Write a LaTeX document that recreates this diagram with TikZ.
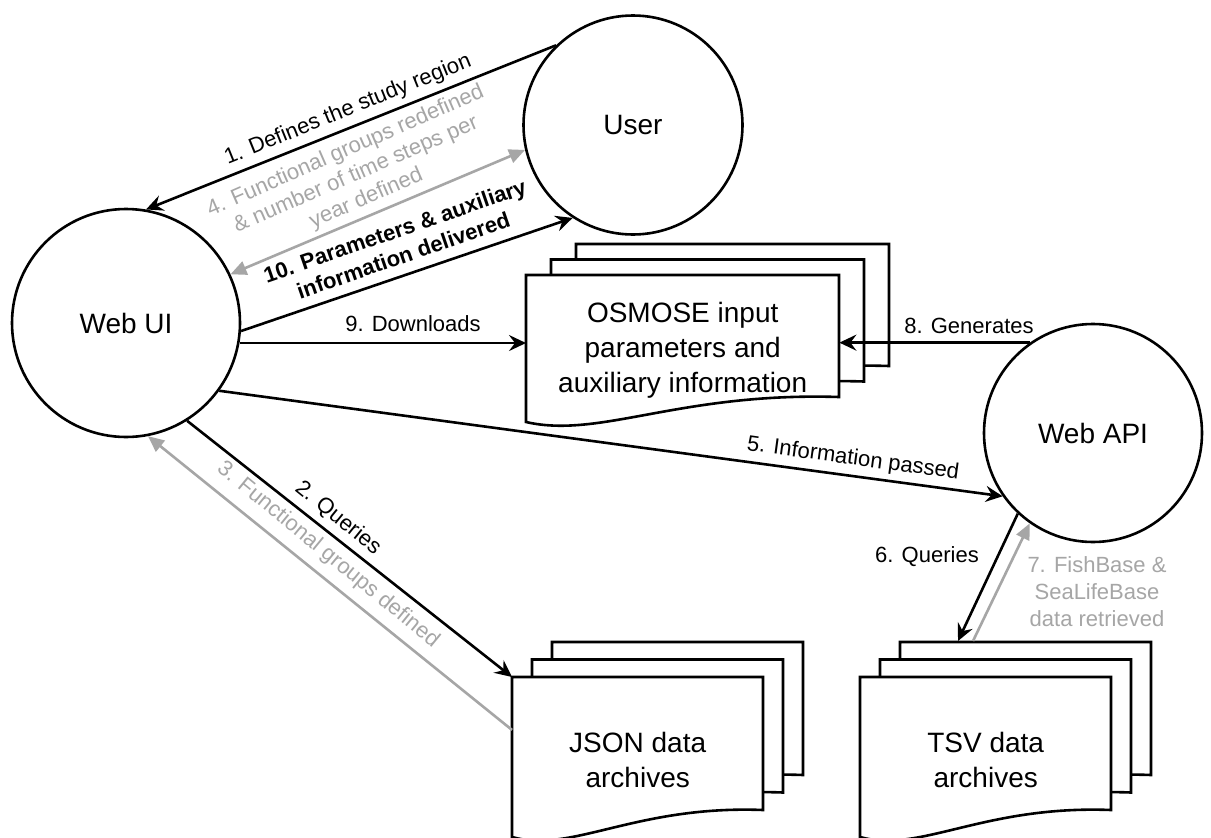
\documentclass[tikz,border=0pt]{standalone}
\usepackage{fontspec}
\setmainfont{Liberation Sans}
\usetikzlibrary{arrows.meta,calc}
\definecolor{flowgray}{RGB}{166,166,166}
\newcommand\nodefont{\fontsize{28}{35}\selectfont}
\newcommand\lblfont{\fontsize{22}{26}\selectfont}

% one sheet of a document stack: top-left (#1,#2), width #3,
% height at the right edge #4, height at the left edge #5
\newcommand\docsheet[5]{%
  \filldraw[sheet] (#1,#2) -- ({#1+#3},#2) -- ({#1+#3},{#2+#4})
    .. controls ({#1+0.49*#3},{#2+#4-5}) and ({#1+0.236*#3},{#2+#5+17}) ..
    (#1,{#2+#5}) -- cycle;}
% three stacked sheets, each one offset by (#6,-#7) from the one in front
\newcommand\docstack[7]{%
  \docsheet{#1+2*#6}{#2-2*#7}{#3}{#4}{#5}%
  \docsheet{#1+#6}{#2-#7}{#3}{#4}{#5}%
  \docsheet{#1}{#2}{#3}{#4}{#5}}

\begin{document}
\begin{tikzpicture}[x=1pt,y=-1pt,
  ent/.style={circle, draw, line width=2.6pt, fill=white, font=\nodefont, inner sep=0pt},
  sheet/.style={draw=black, fill=white, line width=2.6pt, line join=miter},
  doctext/.style={rectangle, font=\nodefont, align=center, inner sep=0pt, anchor=north west},
  lbl/.style={font=\lblfont, align=center, inner sep=0pt},
  glbl/.style={lbl, text=flowgray},
  blk/.style={line width=2.6pt, -{Stealth[length=17pt,width=16pt,inset=6pt]}},
  gry/.style={line width=2.6pt, draw=flowgray, -{Triangle[length=16pt,width=14pt]}},
  gry2/.style={line width=2.6pt, draw=flowgray, {Triangle[length=16pt,width=14pt]}-{Triangle[length=16pt,width=14pt]}}
]
\useasboundingbox (0,0) rectangle (1211,838);
\clip (0,0) rectangle (1211,838);
\fill[white] (0,0) rectangle (1211,838);

% actors
\node[ent, minimum size=228pt] (webui)  at (126,323)  {Web UI};
\node[ent, minimum size=219pt] (user)   at (633,125)  {User};
\node[ent, minimum size=218pt] (webapi) at (1093,433) {Web API};

% document stacks
\docstack{526}{275}{313}{122}{147}{25}{15.5}
\docstack{512}{677}{251}{133}{160}{20}{17.5}
\docstack{860}{677}{251}{133}{160}{20}{17.5}
\node[doctext, minimum width=313pt, minimum height=150pt] (osmose) at (526,275)
  {OSMOSE input\\parameters and\\auxiliary information};
\node[doctext, minimum width=251pt, minimum height=165pt] (json) at (512,677)
  {JSON data\\archives};
\node[doctext, minimum width=251pt, minimum height=165pt] (tsv) at (860,677)
  {TSV data\\archives};
\coordinate (tsvq) at (958,641);
\coordinate (tsvr) at (973,641);

% connectors
\draw[blk]  (user.134) -- (webui.80);
\draw[gry2] (webui.25) -- (user.193);
\draw[blk]  (webui.-4) -- (user.237);
\draw[blk]  (webui.-10) -- (webui.-10 -| osmose.west);
\draw[blk]  (webapi.125) -- (webapi.125 -| osmose.east);
\draw[blk]  (webui.-36) -- (webapi.215);
\draw[blk]  (webui.-58) -- (json.north west);
\draw[gry]  ($(json.north west)!0.32!(json.south west)$) -- (webui.-79);
\draw[blk]  (webapi.227) -- (tsvq);
\draw[gry]  (tsvr) -- (webapi.235);

% labels
\node[lbl, rotate=22] (l1) at (348,110) {1. Defines the study region};
\node[glbl, rotate=23.5] (l4) at (356,175)
  {4. Functional groups redefined\\\& number of time steps per\\year defined};
\node[lbl, rotate=19, font=\lblfont\bfseries] (l10) at (399,243)
  {10. Parameters \& auxiliary\\information delivered};
\node[lbl] (l9) at (413,324) {9. Downloads};
\node[lbl] (l8) at (969,326) {8. Generates};
\node[lbl, rotate=-7.8] (l5) at (853,459) {5. Information passed};
\node[lbl, rotate=-39] (l2) at (338,518) {2. Queries};
\node[glbl, rotate=-39.3] (l3) at (328,555) {3. Functional groups defined};
\node[lbl] (l6) at (927,557) {6. Queries};
\node[glbl, font=\fontsize{22}{27}\selectfont] (l7) at (1097,592)
  {7. FishBase \&\\SeaLifeBase\\data retrieved};
\end{tikzpicture}
\end{document}
